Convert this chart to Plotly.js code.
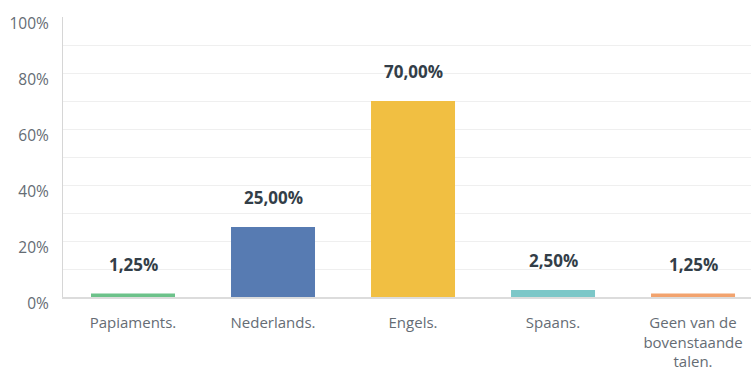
<!DOCTYPE html>
<html>
<head>
<meta charset="utf-8">
<script src="https://cdn.plot.ly/plotly-3.0.1.min.js"></script>
<style>html,body{margin:0;padding:0;background:#fff;}#chart{width:751px;height:367px;}</style>
</head>
<body>
<div id="chart"></div>
<script>
const categories = ["Papiaments.", "Nederlands.", "Engels.", "Spaans.", "Geen van de<br>bovenstaande<br>talen."];
const values = [1.25, 25.00, 70.00, 2.50, 1.25];
const valueLabels = ["1,25%", "25,00%", "70,00%", "2,50%", "1,25%"];
const colors = ["#6cc28a", "#577bb2", "#f1bf42", "#7cc7c8", "#f2a36e"];
const yTickVals = [0, 20, 40, 60, 80, 100];
const yTickText = ["0%", "20%", "40%", "60%", "80%", "100%"];
const yGridVals = [10, 20, 30, 40, 50, 60, 70, 80, 90];

const idx = categories.map((c, i) => i);

const trace = {
  type: "bar",
  x: idx,
  y: values,
  marker: {color: colors},
  width: 0.6,
  hoverinfo: "none",
  yaxis: "y"
};

const annotations = idx.map(i => ({
  x: i, y: values[i], xref: "x", yref: "y",
  text: valueLabels[i], showarrow: false,
  yanchor: "bottom", yshift: 16,
  font: {family: "'Open Sans', sans-serif", size: 17, color: "#333e48", weight: 700}
}));

const layout = {
  width: 751, height: 367,
  margin: {l: 63, r: 0, t: 17, b: 70},
  paper_bgcolor: "#fff", plot_bgcolor: "rgba(0,0,0,0)",
  showlegend: false,
  font: {family: "'Open Sans', sans-serif", size: 15, color: "#656c74"},
  xaxis: {
    range: [-0.5, 4.414],
    tickvals: idx, ticktext: categories,
    showgrid: false, zeroline: false,
    showline: true, linecolor: "#dcdcdc", linewidth: 2,
    ticks: "", ticklabelstandoff: 11,
    tickfont: {size: 15, color: "#656c74"},
    fixedrange: true
  },
  yaxis: {
    range: [0, 100],
    tickvals: yTickVals, ticktext: yTickText,
    showgrid: false, zeroline: false,
    showline: true, linecolor: "#d6d6d6", linewidth: 1,
    ticks: "", ticklabelstandoff: 10, ticklabelshift: 7,
    tickfont: {size: 15.5, color: "#656c74"},
    fixedrange: true
  },
  yaxis2: {
    overlaying: "y", range: [0, 100],
    tickvals: yGridVals, showticklabels: false,
    showgrid: true, gridcolor: "#efefef", gridwidth: 1,
    zeroline: false, showline: false, ticks: "",
    fixedrange: true
  },
  annotations: annotations,
  bargap: 0.4
};

const gridTrace = {type: "scatter", x: [0], y: [0], yaxis: "y2", mode: "markers", marker: {opacity: 0}, hoverinfo: "none"};

Plotly.newPlot("chart", [gridTrace, trace], layout, {displayModeBar: false, staticPlot: true});
</script>
</body>
</html>
